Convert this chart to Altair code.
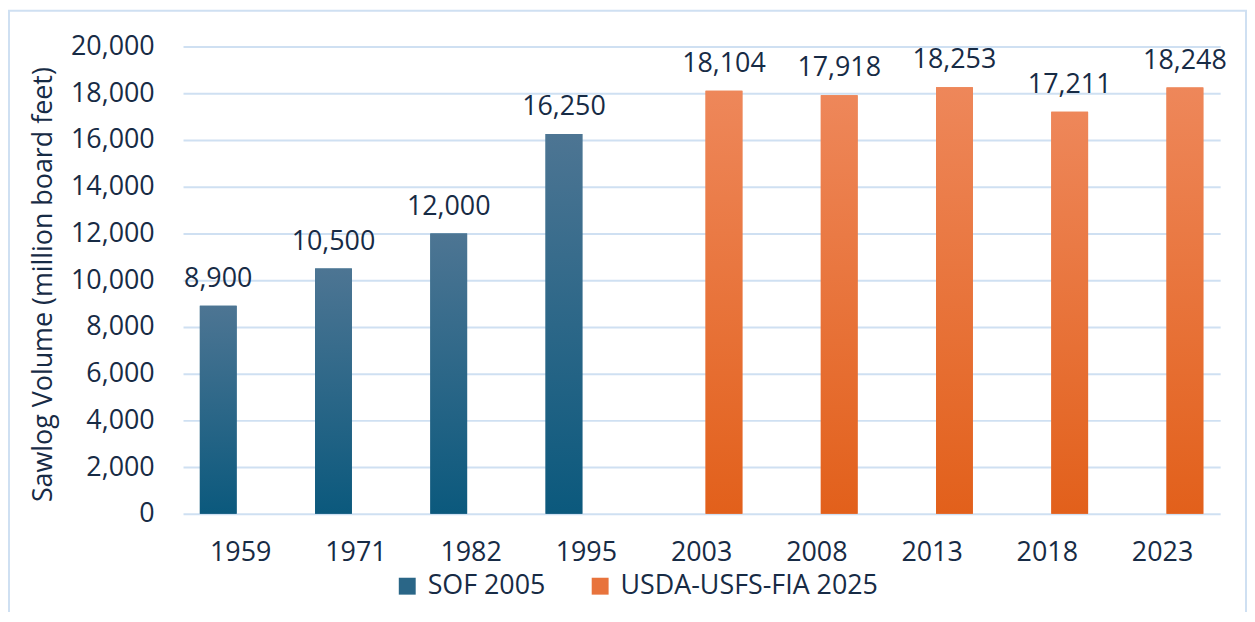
import altair as alt
import pandas as pd

years = ["1959", "1971", "1982", "1995", "2003", "2008", "2013", "2018", "2023"]
sof_2005 = [8900, 10500, 12000, 16250, None, None, None, None, None]
usda_fia_2025 = [None, None, None, None, 18104, 17918, 18253, 17211, 18248]
series_names = ["SOF 2005", "USDA-USFS-FIA 2025"]
y_ticks = [0, 2000, 4000, 6000, 8000, 10000, 12000, 14000, 16000, 18000, 20000]

rows = []
for i, yr in enumerate(years):
    if sof_2005[i] is not None:
        rows.append({"year": yr, "series": series_names[0], "value": sof_2005[i]})
    if usda_fia_2025[i] is not None:
        rows.append({"year": yr, "series": series_names[1], "value": usda_fia_2025[i]})
df = pd.DataFrame(rows)

FONT = "Open Sans"
TXT = "#172b45"
GRID = "#cfe0f2"

blue_grad = {
    "gradient": "linear", "x1": 0, "y1": 0, "x2": 0, "y2": 1,
    "stops": [{"offset": 0, "color": "#4d7593"}, {"offset": 1, "color": "#0b597d"}],
}
orange_grad = {
    "gradient": "linear", "x1": 0, "y1": 0, "x2": 0, "y2": 1,
    "stops": [{"offset": 0, "color": "#ee875a"}, {"offset": 1, "color": "#e2601b"}],
}

x_enc = alt.X(
    "year:N",
    sort=years,
    scale=alt.Scale(domain=years, paddingInner=0.292, paddingOuter=0.146),
    axis=alt.Axis(
        title=None, labelAngle=0, labelFont=FONT, labelFontSize=27, labelColor=TXT,
        labelPadding=26, ticks=False, tickSize=0, domain=False, grid=False,
    ),
)
xo_enc = alt.XOffset(
    "series:N",
    scale=alt.Scale(domain=series_names, paddingInner=0.178, paddingOuter=0),
)
y_enc = alt.Y(
    "value:Q",
    scale=alt.Scale(domain=[0, 20000], nice=False, zero=True),
    axis=alt.Axis(
        values=y_ticks, format=",.0f", title="Sawlog Volume (million board feet)",
        labelFont=FONT, labelFontSize=27, labelColor=TXT, labelPadding=29,
        ticks=False, tickSize=0, domain=False, grid=True, gridColor=GRID, gridWidth=2,
        titleFont=FONT, titleFontSize=27, titleFontWeight="normal", titleColor=TXT,
        titleX=-132, titleY=239, titleBaseline="alphabetic", titleAngle=270,
    ),
)

base = alt.Chart(df)

legend_bars = base.mark_bar().encode(
    x=x_enc, xOffset=xo_enc, y=y_enc,
    color=alt.Color(
        "series:N",
        scale=alt.Scale(domain=series_names, range=["#2a6687", "#e8733c"]),
        legend=alt.Legend(
            title=None, orient="none", legendX=212, legendY=529, direction="horizontal",
            symbolType="square", symbolSize=289, symbolStrokeWidth=0,
            labelFont=FONT, labelFontSize=27, labelColor=TXT, labelOffset=7,
            labelLimit=500, columnPadding=41, padding=0,
        ),
    ),
)

grad_bars = base.mark_bar().encode(
    x=x_enc, xOffset=xo_enc, y=y_enc,
    fill=alt.condition(
        alt.datum.series == series_names[0], alt.value(blue_grad), alt.value(orange_grad)
    ),
)

labels = base.mark_text(
    font=FONT, fontSize=27, color=TXT, baseline="alphabetic", align="center", dy=-19
).encode(
    x=x_enc, xOffset=xo_enc, y=y_enc,
    text=alt.Text("value:Q", format=",.0f"),
)

border = alt.Chart(pd.DataFrame({"k": [0]})).mark_rect(
    filled=False, stroke=GRID, strokeWidth=2
).encode(
    x=alt.value(-175), x2=alt.value(1069), y=alt.value(-36), y2=alt.value(640)
)

chart = (
    alt.layer(legend_bars, grad_bars, labels, border)
    .properties(
        width=1043,
        height=470,
        padding={"left": 176, "top": 37, "right": 27, "bottom": 97},
        autosize=alt.AutoSizeParams(type="none"),
        background="white",
    )
    .configure_view(stroke=None)
)

chart.save("out.html", embed_options={"renderer": "svg", "actions": False})
